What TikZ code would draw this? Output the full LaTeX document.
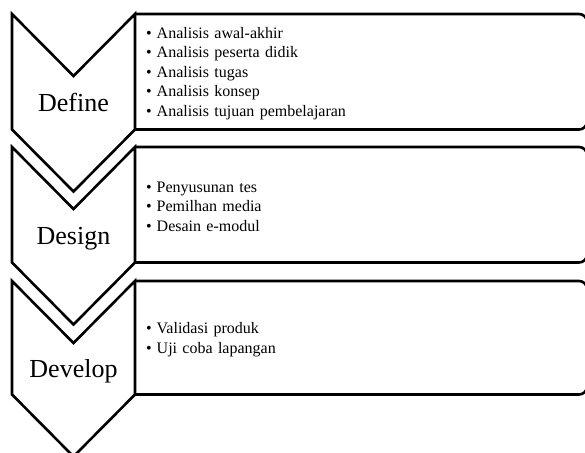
\documentclass[tikz,border=0pt]{standalone}
\usepackage{fontspec}
\setmainfont{Liberation Serif}
\usetikzlibrary{calc}
\newcommand{\bulitem}{\makebox[10.5pt][l]{\textbullet}}

\begin{document}
\begin{tikzpicture}[x=1pt, y=-1pt,
  chevron/.style={line width=2.6pt, line join=miter},
  box/.style={anchor=north west, minimum width=452pt, text width=430pt,
    inner xsep=11pt, align=left, font=\fontsize{16}{19.5}\selectfont},
  frame/.style={line width=2.6pt, line join=miter},
  stage/.style={anchor=base, font=\fontsize{26}{30}\selectfont}]
\useasboundingbox (0,0) rectangle (585,452);
\clip (0,0) rectangle (585,452);
% Define
\draw[chevron] (12,14) -- (73.5,76) -- (135,14) -- (135,129.5) -- (73.5,191.5) -- (12,129.5) -- cycle;
\node[stage] (define) at (73.5,111.5) {Define};
\node[box, minimum height=115.5pt] (definebox) at (135,15.5) {\bulitem Analisis awal-akhir\\
  \bulitem Analisis peserta didik\\
  \bulitem Analisis tugas\\
  \bulitem Analisis konsep\\
  \bulitem Analisis tujuan pembelajaran};
\draw[frame] (135,14) {[rounded corners=8pt] -- (587,14) -- (587,129.5)} -- (135,129.5);
% Design
\draw[chevron] (12,147) -- (73.5,209) -- (135,147) -- (135,262.5) -- (73.5,324.5) -- (12,262.5) -- cycle;
\node[stage] (design) at (73.5,244) {Design};
\node[box, minimum height=115.5pt] (designbox) at (135,148.5) {\bulitem Penyusunan tes\\
  \bulitem Pemilhan media\\
  \bulitem Desain e-modul};
\draw[frame] (135,147) {[rounded corners=8pt] -- (587,147) -- (587,262.5)} -- (135,262.5);
% Develop
\draw[chevron] (12,281) -- (73.5,343) -- (135,281) -- (135,394.5) -- (73.5,456.5) -- (12,394.5) -- cycle;
\node[stage] (develop) at (73.5,377.5) {Develop};
\node[box, minimum height=113.5pt] (developbox) at (135,282.5) {\bulitem Validasi produk\\
  \bulitem Uji coba lapangan};
\draw[frame] (135,281) {[rounded corners=8pt] -- (587,281) -- (587,394.5)} -- (135,394.5);
\end{tikzpicture}
\end{document}
